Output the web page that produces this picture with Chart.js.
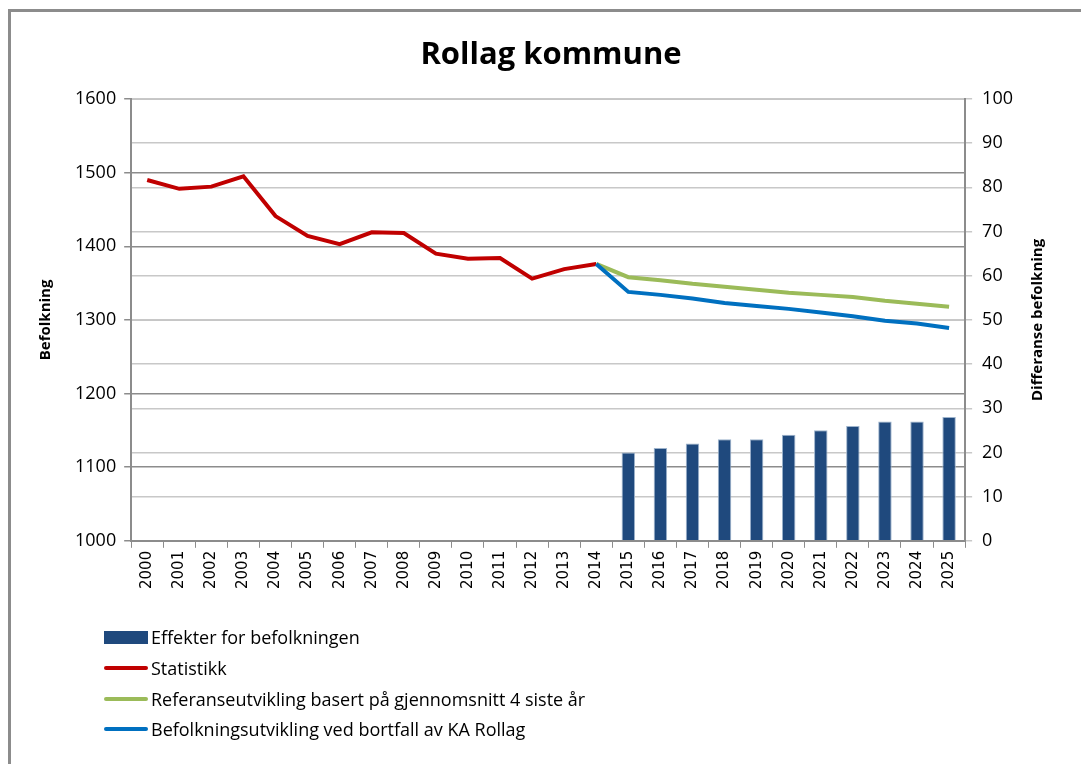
<!DOCTYPE html>
<html>
<head>
<meta charset="utf-8">
<script src="https://cdn.jsdelivr.net/npm/chart.js@4.4.0/dist/chart.umd.min.js"></script>
<style>
  body { margin: 0; background: #fff; }
  #frame { position: absolute; left: 8px; top: 9px; width: 1090px; height: 770px;
           border-left: 3px solid #8c8c8c; border-top: 3px solid #8c8c8c; }
  #wrap { position: absolute; left: 0; top: 0; width: 1081px; height: 764px; }
  #legend { position: absolute; left: 104px; top: 622px; font-family: "Open Sans", sans-serif;
            font-size: 18px; color: #000; }
  #legend div { height: 30.7px; display: flex; align-items: center; }
  #legend .sw { width: 44px; margin-right: 3px; }
</style>
</head>
<body>
<div id="frame"></div>
<div id="wrap"><canvas id="c" width="1081" height="764"></canvas></div>
<div id="legend"></div>
<script>
const years = ['2000','2001','2002','2003','2004','2005','2006','2007','2008','2009','2010','2011','2012',
  '2013','2014','2015','2016','2017','2018','2019','2020','2021','2022','2023','2024','2025'];

// Differanse (høyre akse)
const effekter = [null,null,null,null,null,null,null,null,null,null,null,null,null,null,null,
  20,21,22,23,23,24,25,26,27,27,28];
const statistikk = [1490,1478,1481,1495,1441,1414,1403,1419,1418,1390,1383,1384,1356,1369,1376,
  null,null,null,null,null,null,null,null,null,null,null];
const referanse = [null,null,null,null,null,null,null,null,null,null,null,null,null,null,1376,
  1358,1354,1349,1345,1341,1337,1334,1331,1326,1322,1318];
const bortfall = [null,null,null,null,null,null,null,null,null,null,null,null,null,null,1376,
  1338,1334,1329,1323,1319,1315,1310,1305,1299,1295,1289];

const leftTicks = [1000, 1600, 100];
const rightTicks = [0, 100, 10];

const tickFont = { family: "Open Sans", size: 18 };
const axisTitleFont = { family: "Open Sans", size: 15, weight: 'bold' };

// hovedtittel og tittel på høyre akse (lest nedenfra og opp)
const titles = {
  id: 'titles',
  afterDraw(chart) {
    const { ctx, chartArea } = chart;
    ctx.save();
    ctx.fillStyle = '#000';
    ctx.textAlign = 'center';
    ctx.textBaseline = 'middle';
    ctx.font = 'bold 31px "Open Sans"';
    ctx.fillText('Rollag kommune', 551, 55);
    ctx.translate(1038, (chartArea.top + chartArea.bottom) / 2);
    ctx.rotate(-Math.PI / 2);
    ctx.font = 'bold 15px "Open Sans"';
    ctx.fillText('Differanse befolkning', 0, 0);
    ctx.restore();
  }
};

const data = {
  labels: years,
  datasets: [
    { type: 'bar', label: 'Effekter for befolkningen', data: effekter, yAxisID: 'y1',
      backgroundColor: '#1F497D', borderColor: '#9db3cc', borderWidth: 1,
      barPercentage: 0.42, categoryPercentage: 1, order: 4 },
    { type: 'line', label: 'Statistikk', data: statistikk, yAxisID: 'y',
      borderColor: '#C00000', borderWidth: 4, pointRadius: 0, tension: 0, order: 2 },
    { type: 'line', label: 'Referanseutvikling basert på gjennomsnitt 4 siste år', data: referanse, yAxisID: 'y',
      borderColor: '#9BBB59', borderWidth: 4, pointRadius: 0, tension: 0, order: 3 },
    { type: 'line', label: 'Befolkningsutvikling ved bortfall av KA Rollag', data: bortfall, yAxisID: 'y',
      borderColor: '#0070C0', borderWidth: 4, pointRadius: 0, tension: 0, order: 1 }
  ]
};

const chart = new Chart(document.getElementById('c'), {
  data: data,
  plugins: [titles],
  options: {
    responsive: false,
    animation: false,
    layout: { padding: { left: 33, right: 58, top: 99, bottom: 172 } },
    plugins: {
      legend: { display: false },
      tooltip: { enabled: false },
      title: { display: false }
    },
    scales: {
      x: {
        offset: true,
        grid: { display: true, drawOnChartArea: false, offset: true, color: '#8c8c8c', tickLength: 7 },
        border: { color: '#8c8c8c', width: 2 },
        ticks: { color: '#000', font: { family: "DejaVu Sans", size: 15 }, maxRotation: 90, minRotation: 90, autoSkip: false }
      },
      y: {
        position: 'left', min: leftTicks[0], max: leftTicks[1],
        ticks: { stepSize: leftTicks[2], color: '#000', font: tickFont, padding: 8,
          callback: v => String(v) },
        grid: { color: '#8c8c8c', lineWidth: 1.5, tickLength: 7 },
        border: { color: '#8c8c8c', width: 2 },
        title: { display: true, text: 'Befolkning', color: '#000', font: axisTitleFont, padding: { bottom: 12 } }
      },
      y1: {
        position: 'right', min: rightTicks[0], max: rightTicks[1],
        ticks: { stepSize: rightTicks[2], color: '#000', font: tickFont, padding: 10 },
        grid: { color: '#c8c8c8', lineWidth: 1.5, tickLength: 7 },
        border: { color: '#8c8c8c', width: 2 }
      }
    }
  }
});

// HTML-legende, en linje per serie
const legend = document.getElementById('legend');
chart.data.datasets.forEach(ds => {
  const row = document.createElement('div');
  const sw = document.createElement('span');
  sw.className = 'sw';
  if (ds.type === 'bar') {
    sw.style.height = '13px';
    sw.style.background = ds.backgroundColor;
  } else {
    sw.style.height = '4px';
    sw.style.borderRadius = '2px';
    sw.style.background = ds.borderColor;
  }
  row.appendChild(sw);
  row.appendChild(document.createTextNode(ds.label));
  legend.appendChild(row);
});
</script>
</body>
</html>
